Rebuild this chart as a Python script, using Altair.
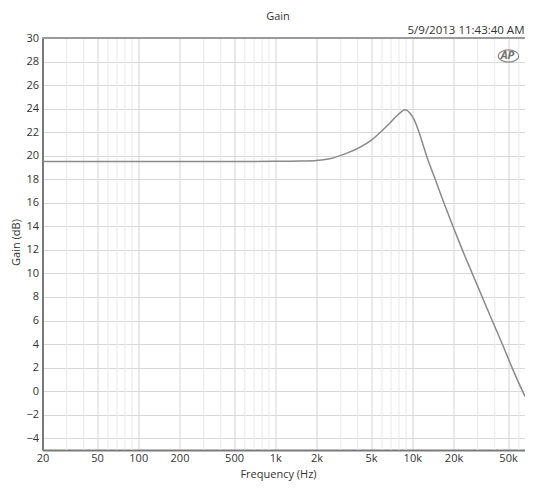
import altair as alt
import pandas as pd

# ---- data ----
freq_hz = [20, 50, 100, 200, 500, 1000, 1500, 2000, 2500, 3300, 4200, 5000, 5800,
           6900, 7900, 8900, 9630, 10380, 11200, 12700, 14700, 17000, 19800, 23200,
           27400, 32400, 38300, 45400, 53500, 63800, 76000]
gain_db = [19.5, 19.5, 19.5, 19.5, 19.5, 19.52, 19.55, 19.6, 19.75, 20.2, 20.75, 21.3,
           21.95, 22.8, 23.5, 23.9, 23.6, 23.0, 22.0, 20.0, 18.0, 16.0, 14.0, 12.0,
           10.0, 8.0, 6.0, 4.0, 2.0, 0.0, -1.7]

x_major_ticks = [20, 50, 100, 200, 500, 1000, 2000, 5000, 10000, 20000, 50000]
x_tick_labels = ["20", "50", "100", "200", "500", "1k", "2k", "5k", "10k", "20k", "50k"]
x_minor_grid = [30, 40, 60, 70, 80, 90, 300, 400, 600, 700, 800, 900,
                3000, 4000, 6000, 7000, 8000, 9000, 30000, 40000, 60000, 70000]
y_ticks = [-4, -2, 0, 2, 4, 6, 8, 10, 12, 14, 16, 18, 20, 22, 24, 26, 28, 30]

chart_title = "Gain"
timestamp = "5/9/2013 11:43:40 AM"
x_title = "Frequency (Hz)"
y_title = "Gain (dB)"

FONT = "Open Sans"

df = pd.DataFrame({"freq": freq_hz, "gain": gain_db})
df_minor = pd.DataFrame({"freq": x_minor_grid})

label_expr = ""
for v, lab in zip(x_major_ticks, x_tick_labels):
    label_expr += f"datum.value == {v} ? '{lab}' : "
label_expr += "''"

xscale = alt.Scale(type="log", domain=[20, 66500], nice=False)
yscale = alt.Scale(domain=[-5, 30], nice=False, zero=False)

x_axis = alt.Axis(values=x_major_ticks, labelExpr=label_expr, title=x_title,
                  grid=True, gridColor="#d4d4d4", labelFlush=False,
                  labelOverlap=False, labelPadding=2,
                  titleX=235.5, titleY=24, titleBaseline="middle",
                  titleAlign="center")

minor = alt.Chart(df_minor).mark_rule(color="#e8e8e8", strokeWidth=1, clip=True).encode(
    x=alt.X("freq:Q", scale=xscale, axis=x_axis)
)

line = alt.Chart(df).mark_line(color="#8a8a8a", strokeWidth=1.5, interpolate="monotone",
                               clip=True).encode(
    x=alt.X("freq:Q", scale=xscale, axis=x_axis),
    y=alt.Y("gain:Q", scale=yscale,
            axis=alt.Axis(values=y_ticks, title=y_title, grid=True, gridColor="#d8d8d8",
                          labelPadding=4, titleX=-26, titleY=204,
                          titleBaseline="middle", titleAlign="center")),
)

top_border = alt.Chart(df).mark_rule(color="#9a9a9a", strokeWidth=1.5).encode(
    y=alt.value(0)
)

title_txt = alt.Chart(pd.DataFrame({"t": [chart_title]})).mark_text(
    font=FONT, fontSize=11, color="#333333", align="center", baseline="middle"
).encode(x=alt.value(235.5), y=alt.value(-21), text="t:N")

stamp_txt = alt.Chart(pd.DataFrame({"t": [timestamp]})).mark_text(
    font=FONT, fontSize=11.5, color="#333333", align="right", baseline="middle"
).encode(x=alt.value(482), y=alt.value(-7), text="t:N")

logo_oval = alt.Chart(pd.DataFrame({"t": ["AP"]})).mark_point(
    shape="M -1 0 A 1 0.6 0 1 0 1 0 A 1 0.6 0 1 0 -1 0 Z",
    size=420, filled=False, color="#8a8a8a", strokeWidth=1.2, opacity=1
).encode(x=alt.value(466), y=alt.value(18))

logo_txt = alt.Chart(pd.DataFrame({"t": ["AP"]})).mark_text(
    font=FONT, fontSize=11, fontStyle="italic", fontWeight="bold", color="#707070",
    align="center", baseline="middle"
).encode(x=alt.value(465), y=alt.value(18), text="t:N")

chart = alt.layer(minor, line, top_border, title_txt, stamp_txt, logo_oval, logo_txt).properties(
    width=482.5, height=412,
    padding={"left": 34.5, "top": 30, "right": 0, "bottom": 31},
    autosize=alt.AutoSizeParams(type="none"),
).configure_view(stroke=None).configure_axis(
    domainColor="#7a7a7a", domainWidth=2, ticks=False,
    labelFont=FONT, labelFontSize=11, labelColor="#333333",
    titleFont=FONT, titleFontSize=11, titleColor="#333333", titleFontWeight="normal",
)

chart.save("out.html", embed_options={"renderer": "svg", "actions": False})
